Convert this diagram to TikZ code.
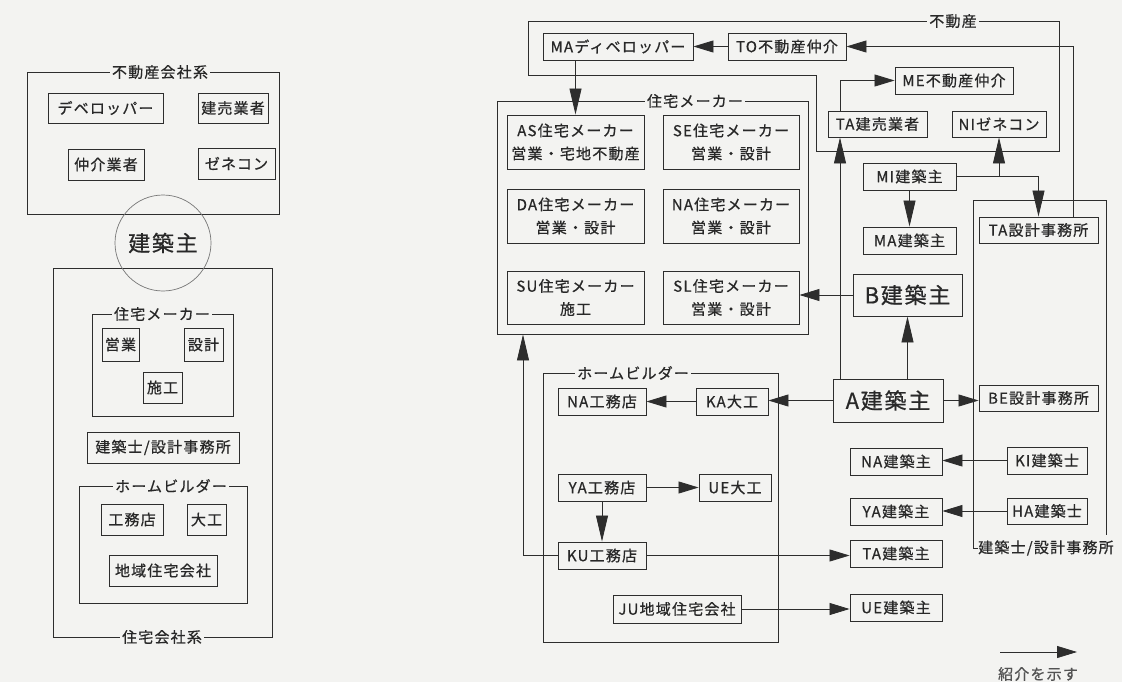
\documentclass[tikz,border=0pt]{standalone}
\usepackage{fontspec}
\setmainfont{Noto Sans CJK JP}[LetterSpace=8, FakeBold=0.7]
\usetikzlibrary{arrows.meta}
\definecolor{bgc}{RGB}{243,243,241}
\definecolor{lc}{RGB}{45,45,45}
\definecolor{tc}{RGB}{40,40,40}
\newcommand\fsn{\fontsize{15}{23}\selectfont}
\newcommand\fbig{\fontsize{22}{26}\selectfont}
\tikzset{
  bx/.style={draw=lc, line width=0.9pt, inner sep=0pt, text=tc, font=\fsn, align=center},
  grp/.style={draw=lc, line width=0.9pt, inner sep=0pt},
  wh/.style 2 args={minimum width=#1pt, minimum height=#2pt},
  glab/.style={fill=bgc, inner sep=2pt, text=tc, font=\fsn},
  arr/.style={draw=lc, line width=0.8pt, -{Triangle[length=20pt,width=12pt]}},
  varr/.style={draw=lc, line width=0.8pt, -{Triangle[length=26pt,width=12pt]}},
  ln/.style={draw=lc, line width=0.8pt}
}
\begin{document}
\begin{tikzpicture}[x=1pt,y=-1pt]
\fill[bgc] (0,0) rectangle (1122,682);
\useasboundingbox (0,0) rectangle (1122,682);

% ---------------- left diagram ----------------
\node[grp, wh={252}{142}] (g1) at (153,143) {};
\node[glab] (g1l) at (160,72) {不動産会社系};
\node[bx, wh={115}{30}] (dev) at (105.5,108) {デベロッパー};
\node[bx, wh={70}{30}] (tat) at (233,108) {建売業者};
\node[bx, wh={76}{31}] (chu) at (106,164.5) {仲介業者};
\node[bx, wh={77}{31}] (zen) at (236.5,163.5) {ゼネコン};

\node[grp, wh={219}{369}] (g2) at (162.5,452.5) {};
\node[glab] (g2l) at (162,637) {住宅会社系};
\node[grp, wh={141}{102}] (g3) at (162.5,365) {};
\node[glab] (g3l) at (162,314) {住宅メーカー};
\node[bx, wh={37}{33}] (eig) at (120.5,344.5) {営業};
\node[bx, wh={39}{33}] (sek) at (203.5,344.5) {設計};
\node[bx, wh={39}{31}] (sko) at (162.5,387.5) {施工};
\node[bx, wh={152}{31}] (kjs) at (163,447.5) {建築士/設計事務所};
\node[grp, wh={168}{117}] (g4) at (163,544.5) {};
\node[glab] (g4l) at (171,486) {ホームビルダー};
\node[bx, wh={62}{31}] (kom) at (132,519.5) {工務店};
\node[bx, wh={39}{31}] (dai) at (206.5,519.5) {大工};
\node[bx, wh={108}{31}] (chi) at (163,570.5) {地域住宅会社};

\node[circle, draw=lc!65, line width=0.7pt, minimum size=96pt, inner sep=0pt, text=tc, font=\fbig] (kc) at (163,243) {建築主};

% ---------------- right diagram ----------------
\draw[ln, line width=0.9pt] (528,21) -- (1059,21) -- (1059,151) -- (816,151) -- (816,75) -- (528,75) -- cycle;
\node[glab] (fdl) at (953,21) {不動産};
\node[bx, wh={150}{27}] (MAdev) at (618,46.5) {MAディベロッパー};
\node[bx, wh={118}{27}] (TO) at (787,46.5) {TO不動産仲介};
\node[bx, wh={118}{27}] (ME) at (954,80.5) {ME不動産仲介};
\node[bx, wh={99}{26}] (TAt) at (877.5,124) {TA建売業者};
\node[bx, wh={94}{26}] (NI) at (999,124) {NIゼネコン};

\node[grp, wh={311}{233}] (g5) at (652.5,217.5) {};
\node[glab] (g5l) at (695,101) {住宅メーカー};
\node[bx, wh={137}{54}] (AS) at (575.5,142) {AS住宅メーカー\\営業・宅地不動産};
\node[bx, wh={136}{54}] (SE) at (731,142) {SE住宅メーカー\\営業・設計};
\node[bx, wh={137}{54}] (DA) at (575.5,216) {DA住宅メーカー\\営業・設計};
\node[bx, wh={136}{54}] (NAm) at (731,216) {NA住宅メーカー\\営業・設計};
\node[bx, wh={137}{53}] (SU) at (575.5,297.5) {SU住宅メーカー\\施工};
\node[bx, wh={136}{53}] (SL) at (731,297.5) {SL住宅メーカー\\営業・設計};

\node[bx, wh={93}{27}] (MI) at (909.5,176.5) {MI建築主};
\node[bx, wh={93}{27}] (MAk) at (909.5,240.5) {MA建築主};
\node[bx, wh={109}{42}, font=\fbig] (B) at (907.5,295) {B建築主};

\draw[ln, line width=0.9pt] (978,548) -- (973,548) -- (973,200) -- (1106,200) -- (1106,535);
\node[anchor=west, inner sep=1pt, text=tc, font=\fsn] (g6l) at (977,548) {建築士/設計事務所};
\node[bx, wh={119}{26}] (TAs) at (1038.5,230) {TA設計事務所};
\node[bx, wh={119}{26}] (BE) at (1038.5,398) {BE設計事務所};
\node[bx, wh={80}{27}] (KI) at (1047,460.5) {KI建築士};
\node[bx, wh={80}{26}] (HA) at (1047,511) {HA建築士};

\node[bx, wh={110}{43}, font=\fbig] (A) at (888,400.5) {A建築主};

\node[grp, wh={235}{269}] (g7) at (660.5,507.5) {};
\node[glab, anchor=west] (g7l) at (575,373) {ホームビルダー};
\node[bx, wh={88}{27}] (NAk) at (602,401.5) {NA工務店};
\node[bx, wh={72}{27}] (KA) at (732,401.5) {KA大工};
\node[bx, wh={88}{27}] (YAk) at (602,487.5) {YA工務店};
\node[bx, wh={72}{27}] (UEd) at (735,487.5) {UE大工};
\node[bx, wh={88}{27}] (KU) at (602,555.5) {KU工務店};
\node[bx, wh={128}{28}] (JU) at (677,609) {JU地域住宅会社};

\node[bx, wh={92}{27}] (NAb) at (896,461.5) {NA建築主};
\node[bx, wh={92}{27}] (YAb) at (896,511.5) {YA建築主};
\node[bx, wh={92}{27}] (TAb) at (896,553.5) {TA建築主};
\node[bx, wh={92}{27}] (UEb) at (896,607.5) {UE建築主};

% ---------------- connectors ----------------
\coordinate (xA) at (1073,0);
\coordinate (xT) at (840,0);
\coordinate (xK) at (523,0);
\draw[arr] (TO.west) -- (MAdev.east);
\draw[arr] (TAs.north -| xA) |- (TO.east);
\draw[varr] (MAdev.south -| AS.north) -- (AS.north);
\draw[arr] (TAt.north -| xT) |- (ME.west);
\draw[varr] (A.north -| xT) -- (TAt.south -| xT);
\draw[varr] (A.north -| B.south) -- (B.south);
\draw[varr] (MI.south) -- (MAk.north);
\draw[varr] (MI.east) -| (TAs.north);
\draw[varr] (NI.south |- MI.east) -- (NI.south);
\draw[arr] (B.west) -- (B.west -| SL.east);
\draw[arr] (A.east) -- (A.east -| BE.west);
\draw[arr] (A.west) -- (A.west -| KA.east);
\draw[arr] (KA.west) -- (NAk.east);
\draw[arr] (YAk.east) -- (UEd.west);
\draw[varr] (YAk.south) -- (KU.north);
\draw[varr] (KU.west) -| (xK |- g5.south);
\draw[arr] (KU.east) -- (KU.east -| TAb.west);
\draw[arr] (JU.east) -- (JU.east -| UEb.west);
\draw[arr] (KI.west) -- (KI.west -| NAb.east);
\draw[arr] (HA.west) -- (HA.west -| YAb.east);

% legend
\coordinate (lg1) at (1000,652);
\coordinate (lg2) at (1077,652);
\draw[arr] (lg1) -- (lg2);
\node[text=tc!80, font=\fsn, inner sep=0pt] (lgt) at (1038,674) {紹介を示す};
\end{tikzpicture}
\end{document}
